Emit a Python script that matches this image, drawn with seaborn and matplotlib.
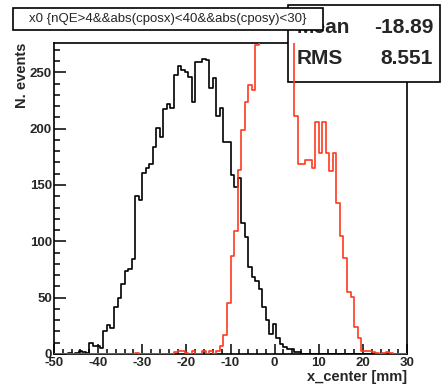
import numpy as np
import pandas as pd
import matplotlib
matplotlib.use("Agg")
import matplotlib.pyplot as plt
import seaborn as sns
from matplotlib.patches import Rectangle
from matplotlib.ticker import MultipleLocator

# Binning of x_center [mm]: 100 bins from -50 to 30
bin_lo, bin_hi, n_bins = -50.0, 30.0, 100

# Entries per bin, x0 selection (black)
x0_counts = [
    0, 0, 0, 0, 1, 0, 1, 3, 2, 1,
    10, 7, 7, 5, 20, 26, 23, 42, 50, 62,
    74, 75, 84, 140, 137, 161, 165, 169, 184, 201,
    193, 217, 222, 218, 248, 256, 252, 250, 246, 224,
    259, 259, 262, 261, 236, 245, 211, 218, 188, 188,
    159, 148, 156, 116, 104, 77, 68, 65, 58, 42,
    30, 18, 27, 14, 9, 6, 4, 4, 2, 2,
    0, 0, 0, 0, 0, 0, 0, 0, 0, 0,
    0, 0, 0, 0, 0, 0, 0, 0, 0, 0,
    0, 0, 0, 0, 0, 0, 0, 0, 0, 0,
]

# Entries per bin, second selection drawn with "same" (red)
x1_counts = [
    0, 0, 0, 0, 0, 0, 0, 0, 0, 0,
    0, 0, 0, 0, 0, 0, 0, 0, 0, 0,
    0, 0, 0, 1, 0, 0, 0, 0, 0, 0,
    0, 0, 0, 0, 2, 3, 3, 1, 0, 3,
    0, 0, 3, 0, 3, 0, 3, 7, 17, 45,
    87, 109, 163, 199, 224, 239, 234, 274, 292, 318,
    335, 349, 356, 352, 340, 321, 298, 283, 211, 169,
    169, 172, 172, 165, 206, 178, 206, 178, 162, 178,
    134, 105, 85, 55, 51, 24, 14, 3, 3, 3,
    2, 1, 0, 1, 2, 1, 0, 0, 0, 0,
]

title_text = "x0 {nQE>4&&abs(cposx)<40&&abs(cposy)<30}"
stat_names = ["Mean", "RMS"]
stat_values = ["-18.89", "8.551"]

edges = [float(e) for e in np.linspace(bin_lo, bin_hi, n_bins + 1)]
centers = [0.5 * (a + b) for a, b in zip(edges[:-1], edges[1:])]
df = pd.DataFrame({
    "x_center": centers + centers,
    "entries": x0_counts + x1_counts,
    "sel": ["x0"] * n_bins + ["x1"] * n_bins,
})

sns.set_style("white")
plt.rcParams["font.family"] = ["Liberation Sans", "DejaVu Sans"]

W, H = 444, 389
fig = plt.figure(figsize=(W / 100, H / 100), dpi=100)
L, R, T, B = 54, 407, 43, 354
ax = fig.add_axes([L / W, (H - B) / H, (R - L) / W, (B - T) / H])

colors = {"x0": "#000000", "x1": "#ff3a1e"}
for sel in ["x0", "x1"]:
    sns.histplot(data=df[df["sel"] == sel], x="x_center", weights="entries",
                 bins=edges, element="step", fill=False, color=colors[sel],
                 linewidth=1.2, ax=ax, zorder=3)

ax.set_xlim(bin_lo, bin_hi)
ax.set_ylim(0, 276)

for s in ax.spines.values():
    s.set_linewidth(1.2)
    s.set_color("black")
    s.set_visible(True)

ax.xaxis.set_major_locator(MultipleLocator(10))
ax.xaxis.set_minor_locator(MultipleLocator(2))
ax.yaxis.set_major_locator(MultipleLocator(50))
ax.yaxis.set_minor_locator(MultipleLocator(10))
ax.tick_params(axis="both", which="both", direction="in", top=False, right=False,
               bottom=True, left=True, color="black", width=1.1)
ax.tick_params(axis="x", which="major", length=7.2, pad=2, labelsize=9.5)
ax.tick_params(axis="x", which="minor", length=3.6)
ax.tick_params(axis="y", which="major", length=8.4, pad=1.5, labelsize=9.5)
ax.tick_params(axis="y", which="minor", length=4.3)
ax.set_xticks(list(range(-50, 31, 10)))
ax.set_xticklabels([f"{v:d}" for v in range(-50, 31, 10)], fontweight="bold")
ax.set_yticks(list(range(0, 251, 50)))
ax.set_yticklabels([f"{v:d}" for v in range(0, 251, 50)], fontweight="bold")

ax.set_xlabel("x_center [mm]", fontsize=10.5, loc="right", fontweight="bold")
ax.xaxis.set_label_coords(1.0, -0.052)
ax.set_ylabel("N. events", fontsize=10.5, loc="top", fontweight="bold")
ax.yaxis.set_label_coords(-0.07, 1.0)

ftr = fig.transFigure
# statistics box
ax.add_patch(Rectangle((288 / W, (H - 82) / H), 152 / W, 77 / H, transform=ftr,
                       facecolor="white", edgecolor="black", linewidth=1.2,
                       clip_on=False, zorder=2.6))
for i, (name, val) in enumerate(zip(stat_names, stat_values)):
    yb = (H - (33 if i == 0 else 64)) / H
    ax.text(297 / W, yb, name, transform=ftr, fontsize=15, ha="left",
            va="baseline", fontweight="bold", zorder=2.7)
    ax.text(433 / W, yb, val, transform=ftr, fontsize=15, ha="right",
            va="baseline", fontweight="bold", zorder=2.7)

# title box
ax.add_patch(Rectangle((13 / W, (H - 30) / H), 310 / W, 22 / H, transform=ftr,
                       facecolor="white", edgecolor="black", linewidth=1.2,
                       clip_on=False, zorder=4))
ax.text(168 / W, (H - 19) / H, title_text, transform=ftr, fontsize=9.5,
        ha="center", va="center", zorder=4.1)

fig.savefig("out.png", dpi=100)
